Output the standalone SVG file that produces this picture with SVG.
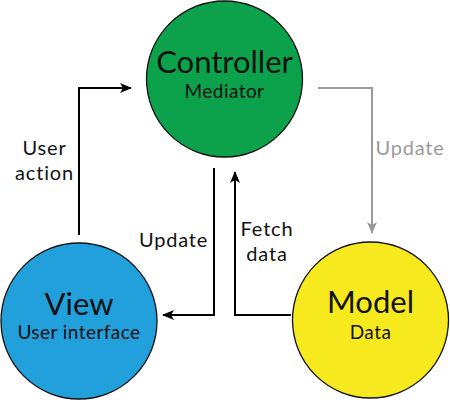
<svg xmlns="http://www.w3.org/2000/svg" width="450" height="400" viewBox="0 0 450 400">
<defs>
<marker id="ah" markerWidth="12" markerHeight="10" refX="11" refY="5" orient="auto" markerUnits="userSpaceOnUse"><path d="M0,0 L12,5 L0,10 L3,5 Z" fill="#000"/></marker>
<marker id="ahg" markerWidth="12" markerHeight="10" refX="11" refY="5" orient="auto" markerUnits="userSpaceOnUse"><path d="M0,0 L12,5 L0,10 L3,5 Z" fill="#9a9a9a"/></marker>
</defs>
<style>
.node{stroke:#111;stroke-width:1.3}
text{font-family:Lato,"Noto Sans",sans-serif;fill:#111;text-anchor:middle}
.big{font-size:31px}
.sub{font-size:19px;letter-spacing:0.45px}
.lbl{font-size:20px;letter-spacing:0.8px}
.c{fill:none;stroke:#000;stroke-width:2}
.g{fill:none;stroke:#9a9a9a;stroke-width:2}
</style>
<rect width="450" height="400" fill="#fff"/>
<g id="connectors">
<polyline class="c" points="79,235 79,88 131,88" marker-end="url(#ah)"/>
<polyline class="c" points="214,168 214,315 163,315" marker-end="url(#ah)"/>
<polyline class="c" points="291,315 235,315 235,172" marker-end="url(#ah)"/>
<polyline class="g" points="318,88 372,88 372,233" marker-end="url(#ahg)"/>
<text class="lbl" x="44.5" y="155">User</text>
<text class="lbl" x="44.5" y="180">action</text>
<text class="lbl" x="173.5" y="247">Update</text>
<text class="lbl" x="267" y="236">Fetch</text>
<text class="lbl" x="267" y="261">data</text>
<text class="lbl" x="410" y="155" style="fill:#9a9a9a">Update</text>
</g>
<g id="controller">
<circle class="node" cx="224.5" cy="79" r="78" fill="#0ca24c"/>
<text class="big" x="224.5" y="73">Controller</text>
<text class="sub" x="224.5" y="98">Mediator</text>
</g>
<g id="view">
<circle class="node" cx="79" cy="321" r="78" fill="#22a0dc"/>
<text class="big" x="79" y="315">View</text>
<text class="sub" x="79" y="339">User interface</text>
</g>
<g id="model">
<circle class="node" cx="370.5" cy="320" r="78" fill="#f6ea1f"/>
<text class="big" x="370.5" y="313">Model</text>
<text class="sub" x="370.5" y="339">Data</text>
</g>
</svg>
